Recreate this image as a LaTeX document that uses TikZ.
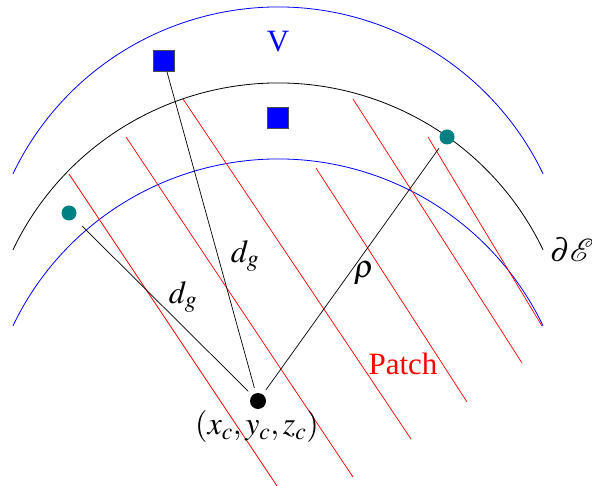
\documentclass[tikz,border=0pt]{standalone}
\usepackage{mathptmx}
\usepackage{fontspec}
\setmainfont{Liberation Serif}
\usepackage{xcolor}

\begin{document}
\begin{tikzpicture}[x=1pt,y=-1pt,
  dot/.style={circle,fill=black,inner sep=0pt,minimum size=16pt},
  site/.style={circle,fill=teal,inner sep=0pt,minimum size=15pt},
  box/.style={rectangle,fill=blue,draw=black!70,line width=0.6pt,inner sep=0pt,minimum size=21pt},
  patch/.style={red,line width=0.7pt},
  txt/.style={font=\fontsize{31}{34}\selectfont},
  lbl/.style={font=\fontsize{32}{36}\selectfont}]
  \useasboundingbox (0,0) rectangle (592,486);

  \foreach \cy/\col in {301/blue,377/black,453/blue}
    \draw[\col,line width=0.8pt] (278,\cy) ++(-154.4:294) arc[start angle=-154.4,end angle=-25.6,radius=294];

  \foreach \a/\b/\c/\d in {69/174/277/486,126/137/353/477,183/99/411/439,316/168/467/402,353/99/522/363,428/137/542/326}
    \draw[patch] (\a,\b) -- (\c,\d);

  \node[dot] (pc) at (258,401) {};
  \node[site] (ga) at (69,213) {};
  \node[site] (gb) at (447,137) {};
  \node[box] (sa) at (164,61) {};
  \node[box] (sb) at (278,118) {};

  \draw[line width=0.7pt,shorten <=5.5pt] (pc) -- (sa);
  \draw[line width=0.7pt,shorten <=5.5pt,shorten >=11pt] (pc) -- (ga);
  \draw[line width=0.7pt,shorten <=5.5pt,shorten >=6pt] (pc) -- (gb);

  \node[txt,blue] at (278,42) {V};
  \node[txt,red] at (403,364) {Patch};
  \node[lbl] at (245,256) {$d_g$};
  \node[lbl] at (183,297) {$d_g$};
  \node[lbl] at (364,273) {$\rho$};
  \node[lbl] at (257,427) {$(x_c,y_c,z_c)$};
  \node[lbl] at (572,250) {$\partial\mathcal{E}$};
\end{tikzpicture}
\end{document}
